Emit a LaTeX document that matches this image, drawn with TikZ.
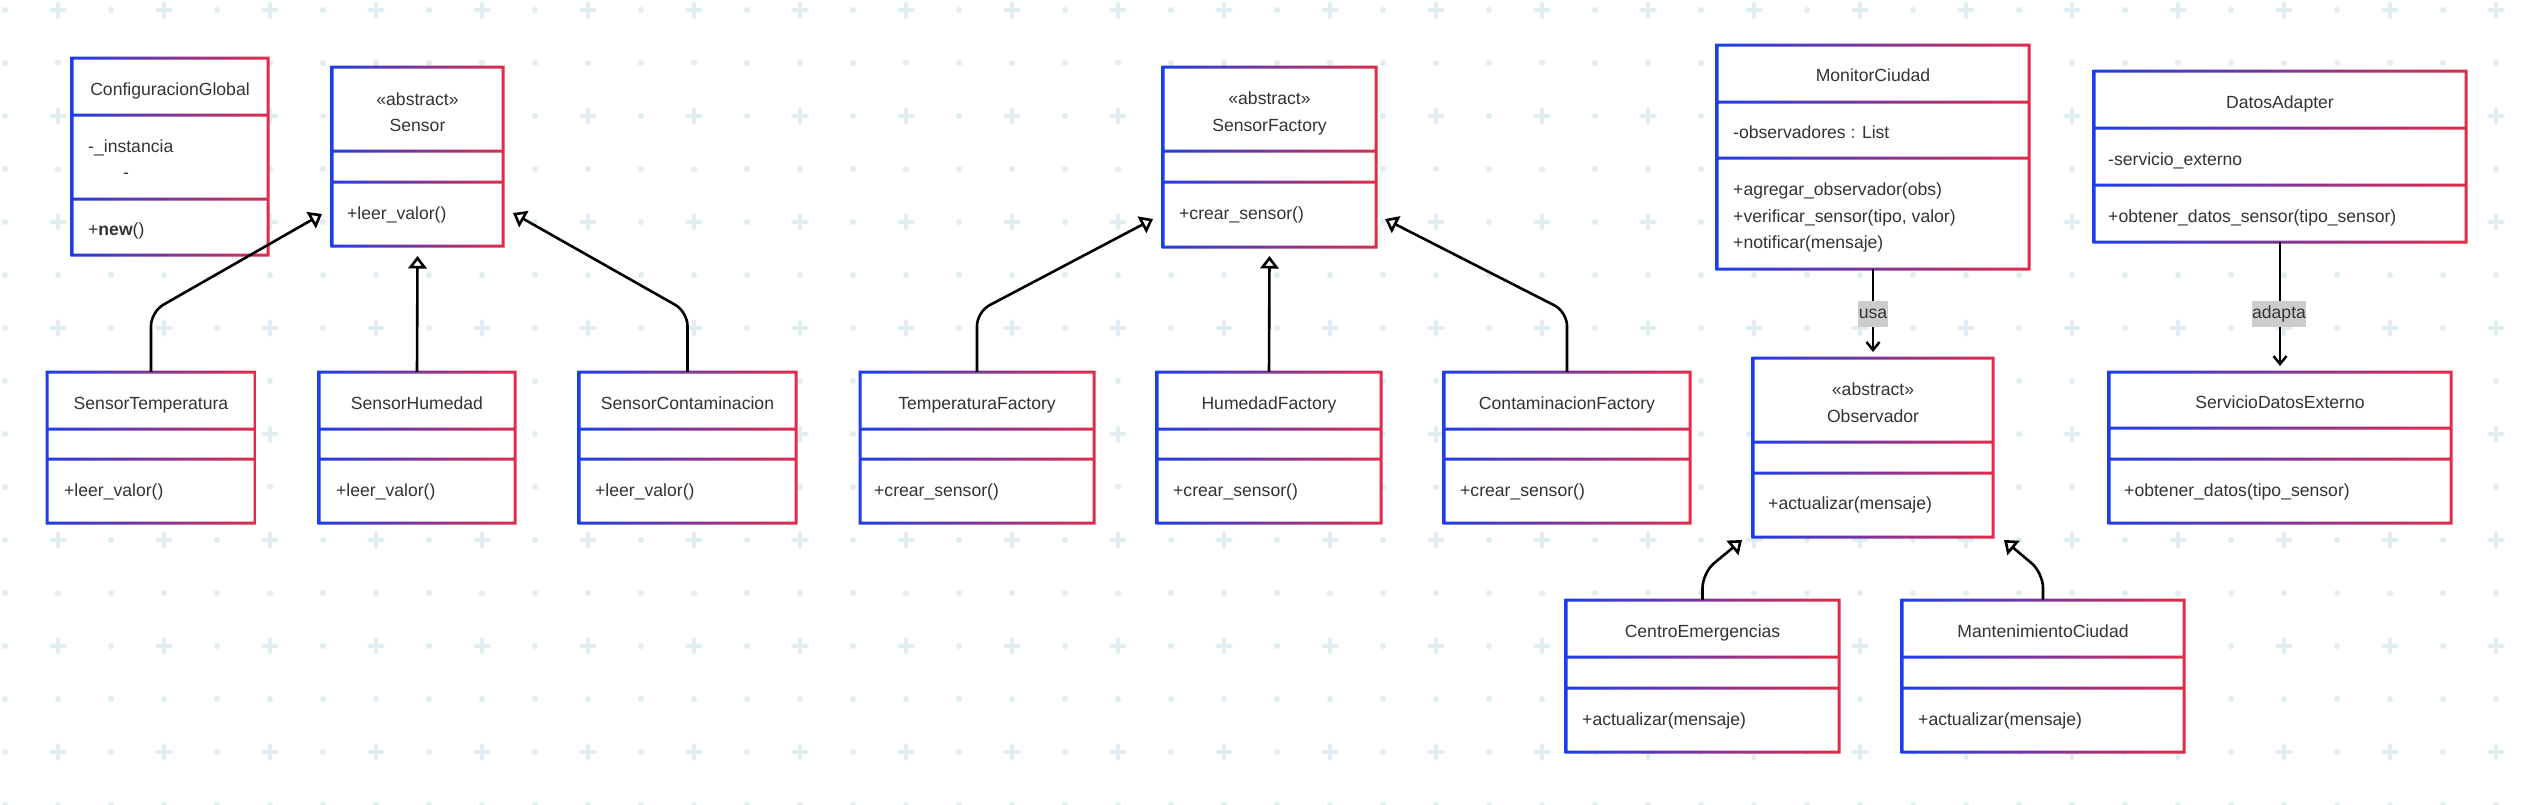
\documentclass[tikz,border=0pt]{standalone}
\usepackage{fontspec}
\setmainfont{Liberation Sans}
\usetikzlibrary{arrows.meta}
\definecolor{cA}{RGB}{28,62,232}
\definecolor{cB}{RGB}{224,44,72}
\definecolor{gridc}{RGB}{224,238,242}
\definecolor{textc}{RGB}{51,51,51}
\definecolor{lblc}{RGB}{204,204,204}
\newcommand\umlbox[7]{%
  \fill[white] (#2,#3) rectangle (#4,#5);
  \shade[left color=cA, right color=cB]
    (#2-1.5,#3-1.5) rectangle (#4+1.5,#3+1.5)
    (#2-1.5,#5-1.5) rectangle (#4+1.5,#5+1.5)
    (#2-1.5,#3) rectangle (#2+1.5,#5)
    (#4-1.5,#3) rectangle (#4+1.5,#5)
    (#2,#6-1.5) rectangle (#4,#6+1.5)
    (#2,#7-1.5) rectangle (#4,#7+1.5);
  \node[inner sep=0, minimum width={(#4-#2)*1pt}, minimum height={(#5-#3)*1pt}] (#1) at ({(#2+#4)/2},{(#3+#5)/2}) {};
}
\tikzset{
  txt/.style={font=\fontsize{17.6}{21}\selectfont, text=textc, inner sep=0, anchor=base},
  mem/.style={txt, anchor=base west},
  ext/.style={line width=2.6pt, draw=black, rounded corners=14pt,
    -{Triangle[length=12.5pt, width=18.5pt, fill=white]}},
  dep/.style={line width=2.5pt, draw=black, -{Straight Barb[length=8pt, width=13pt]}},
  lbl/.style={font=\fontsize{17.6}{21}\selectfont, text=textc, fill=lblc, inner xsep=0.5pt, inner ysep=5pt, text height=12pt, text depth=4pt}
}
\begin{document}
\begin{tikzpicture}[x=1pt,y=-1pt]
\useasboundingbox (0,0) rectangle (2542,804);
\fill[white] (0,0) rectangle (2542,804);
% background grid
\foreach \m in {1,3,...,15} {\foreach \k in {0,...,47} {\fill[gridc] ({5+53*\k},{10+53*\m}) circle (3);}}
\foreach \m in {0,2,...,14} {
  \foreach \k in {0,2,...,46} {\fill[gridc] ({5+53*\k},{10+53*\m}) circle (3);}
  \foreach \k in {1,3,...,47} {\draw[gridc, line width=4pt, line cap=round] ({5+53*\k-6.5},{10+53*\m}) -- ++(13,0) ({5+53*\k},{10+53*\m-6.5}) -- ++(0,13);}
}
% boxes
\umlbox{cfg}{72}{58}{268}{255}{115}{199}
\umlbox{sen}{332}{67}{503}{246}{151}{182}
\umlbox{st}{47}{372}{255}{523}{429}{459}
\umlbox{sh}{319}{372}{515}{523}{429}{459}
\umlbox{sc}{579}{372}{796}{523}{429}{459}
\umlbox{sf}{1163}{67}{1376}{247}{151}{182}
\umlbox{tf}{860}{372}{1094}{523}{429}{459}
\umlbox{hf}{1157}{372}{1381}{523}{429}{459}
\umlbox{cf}{1444}{372}{1690}{523}{429}{459}
\umlbox{mon}{1717}{45}{2029}{269}{102}{158}
\umlbox{da}{2094}{71}{2466}{242}{128}{185}
\umlbox{obs}{1753}{358}{1993}{537}{442}{473}
\umlbox{sde}{2109}{372}{2451}{523}{428}{459}
\umlbox{ce}{1566}{600}{1839}{752}{657}{688}
\umlbox{mc}{1902}{600}{2184}{752}{657}{688}
% texts
\node[txt] (cfgT) at (170,95) {ConfiguracionGlobal};
\node[mem] (cfgA1) at (88,152) {-\_instancia};
\node[txt] (cfgA2) at (126,178) {-};
\node[mem] (cfgM) at (88,235) {+\textbf{new}()};
\node[txt] (senS) at (417.5,105) {«abstract»};
\node[txt] (senT) at (417.5,131) {Sensor};
\node[mem] (senM) at (347,219) {+leer\_valor()};
\node[txt] (stT) at (151,409) {SensorTemperatura};
\node[mem] (stM) at (64,496) {+leer\_valor()};
\node[txt] (shT) at (417,409) {SensorHumedad};
\node[mem] (shM) at (336,496) {+leer\_valor()};
\node[txt] (scT) at (687.5,409) {SensorContaminacion};
\node[mem] (scM) at (595,496) {+leer\_valor()};
\node[txt] (sfS) at (1269.5,104) {«abstract»};
\node[txt] (sfT) at (1269.5,131) {SensorFactory};
\node[mem] (sfM) at (1179,219) {+crear\_sensor()};
\node[txt] (tfT) at (977,409) {TemperaturaFactory};
\node[mem] (tfM) at (874,496) {+crear\_sensor()};
\node[txt] (hfT) at (1269,409) {HumedadFactory};
\node[mem] (hfM) at (1173,496) {+crear\_sensor()};
\node[txt] (cfT) at (1567,409) {ContaminacionFactory};
\node[mem] (cfM) at (1460,496) {+crear\_sensor()};
\node[txt] (monT) at (1873,81) {MonitorCiudad};
\node[mem] (monA) at (1733,138) {-observadores : List};
\node[mem] (monM1) at (1733,195) {+agregar\_observador(obs)};
\node[mem] (monM2) at (1733,222) {+verificar\_sensor(tipo, valor)};
\node[mem] (monM3) at (1733,248) {+notificar(mensaje)};
\node[txt] (daT) at (2280,108) {DatosAdapter};
\node[mem] (daA) at (2108,165) {-servicio\_externo};
\node[mem] (daM) at (2108,222) {+obtener\_datos\_sensor(tipo\_sensor)};
\node[txt] (obsS) at (1873,395) {«abstract»};
\node[txt] (obsT) at (1873,422) {Observador};
\node[mem] (obsM) at (1768,509) {+actualizar(mensaje)};
\node[txt] (sdeT) at (2280,408) {ServicioDatosExterno};
\node[mem] (sdeM) at (2124,496) {+obtener\_datos(tipo\_sensor)};
\node[txt] (ceT) at (1702.5,637) {CentroEmergencias};
\node[mem] (ceM) at (1582,725) {+actualizar(mensaje)};
\node[txt] (mcT) at (2043,637) {MantenimientoCiudad};
\node[mem] (mcM) at (1918,725) {+actualizar(mensaje)};
% connector end points
\coordinate (tipSL) at (322,214);
\coordinate (tipSH) at (417.5,256);
\coordinate (tipSR) at (513,213);
\coordinate (tipFL) at (1153,219);
\coordinate (tipFH) at (1269.5,256);
\coordinate (tipFR) at (1385,219);
\coordinate (tipOL) at (1742,540);
\coordinate (tipOR) at (2004,540);
\coordinate (tipUsa) at (1873,352);
\coordinate (tipAd) at (2280,366);
% generalizations
\draw[ext] (st.north) -- ++(0,-60) -- (tipSL);
\draw[ext] (sh.north) -- (tipSH);
\draw[ext] (sc.north) -- ++(0,-60) -- (tipSR);
\draw[ext] (tf.north) -- ++(0,-60) -- (tipFL);
\draw[ext] (hf.north) -- (tipFH);
\draw[ext] (cf.north) -- ++(0,-60) -- (tipFR);
\draw[ext, rounded corners=15pt] (ce.north) -- ++(0,-27) -- (tipOL);
\draw[ext, rounded corners=15pt] (mc.north) -- ++(0,-27) -- (tipOR);
% dependencies
\draw[dep] (mon.south) -- (tipUsa);
\node[lbl] (usaL) at (1873,314) {usa};
\draw[dep] (da.south) -- (tipAd);
\node[lbl] (adL) at (2279,314) {adapta};
\end{tikzpicture}
\end{document}
